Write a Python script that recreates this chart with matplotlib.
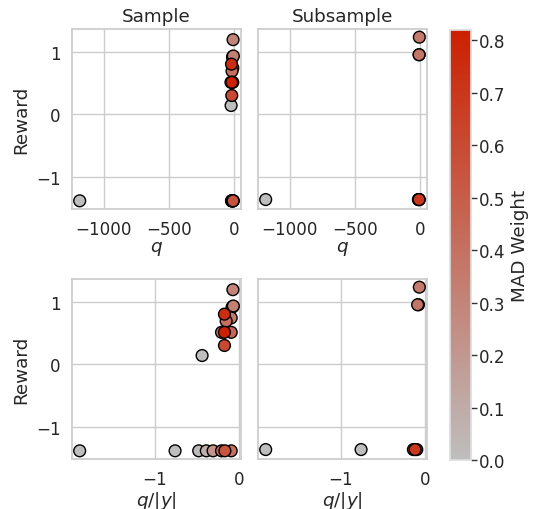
import matplotlib
matplotlib.use("Agg")
import matplotlib.pyplot as plt
import seaborn as sns
import numpy as np
from matplotlib.colors import LinearSegmentedColormap, Normalize
from matplotlib.ticker import MultipleLocator

sns.set_theme(style="whitegrid", font_scale=1.1)
plt.rcParams['font.family'] = ['DejaVu Sans']

# ---- data ----
sample_q = [-10, -12, -8, -14, -22, -12, -18, -26, -20, -12, -20, -25,
            -1185, -20, -22, -18, -15, -12, -10, -8]
sample_q_norm = [-0.075, -0.075, -0.07, -0.085, -0.175, -0.095, -0.155, -0.21,
                 -0.175, -0.095, -0.175, -0.44, -1.89, -0.76, -0.48, -0.39,
                 -0.31, -0.21, -0.17, -0.095]
sample_reward = [1.19, 0.92, 0.93, 0.91, 0.80, 0.74, 0.69, 0.51, 0.51, 0.51,
                 0.30, 0.14, -1.38, -1.38, -1.38, -1.38, -1.38, -1.38, -1.38, -1.38]
sample_weight = [0.30, 0.28, 0.32, 0.30, 0.75, 0.35, 0.40, 0.40, 0.82, 0.45,
                 0.60, 0.0, 0.0, 0.0, 0.02, 0.08, 0.22, 0.45, 0.55, 0.40]

sub_q = [-8, -10, -9, -1185, -15, -12, -10, -8]
sub_q_norm = [-0.07, -0.09, -0.08, -1.89, -0.76, -0.14, -0.12, -0.10]
sub_reward = [1.23, 0.95, 0.95, -1.36, -1.36, -1.36, -1.36, -1.36]
sub_weight = [0.35, 0.38, 0.36, 0.0, 0.0, 0.62, 0.70, 0.68]

titles = ["Sample", "Subsample"]
vmin, vmax = 0.0, 0.82

cmap = LinearSegmentedColormap.from_list("mad", ["#bebebe", "#cc2000"])
norm = Normalize(vmin=vmin, vmax=vmax)

fig = plt.figure(figsize=(5.34, 5.10), dpi=100)
W, H = 534, 510
def rect(x0, y0, x1, y1):
    return [x0 / W, 1 - y1 / H, (x1 - x0) / W, (y1 - y0) / H]

ax_tl = fig.add_axes(rect(72, 30, 241, 210))
ax_tr = fig.add_axes(rect(258, 30, 427, 210), sharey=ax_tl)
ax_bl = fig.add_axes(rect(72, 280, 241, 460), sharey=ax_tl)
ax_br = fig.add_axes(rect(258, 280, 427, 460), sharey=ax_tl)
cax = fig.add_axes(rect(450, 31, 471, 461))

def scat(ax, x, y, w):
    x = np.asarray(x); y = np.asarray(y); w = np.asarray(w)
    order = np.argsort(w, kind="stable")
    return ax.scatter(x[order], y[order], c=w[order], cmap=cmap, norm=norm,
                      s=72, edgecolor="black", linewidth=1.0, zorder=3)

scat(ax_tl, sample_q, sample_reward, sample_weight)
scat(ax_tr, sub_q, sub_reward, sub_weight)
scat(ax_bl, sample_q_norm, sample_reward, sample_weight)
sc = scat(ax_br, sub_q_norm, sub_reward, sub_weight)

ax_tl.set_title(titles[0])
ax_tr.set_title(titles[1])
for ax in (ax_tl, ax_tr):
    ax.xaxis.set_major_locator(MultipleLocator(500))
    ax.set_xlabel("$q$", labelpad=1)
for ax in (ax_bl, ax_br):
    ax.xaxis.set_major_locator(MultipleLocator(1))
    ax.set_xlabel("$q/|y|$", labelpad=1)
ax_tl.yaxis.set_major_locator(MultipleLocator(1))
for ax in (ax_tl, ax_bl):
    ax.set_ylabel("Reward")
for ax in (ax_tr, ax_br):
    plt.setp(ax.get_yticklabels(), visible=False)
for ax in (ax_tl, ax_tr, ax_bl, ax_br):
    ax.tick_params(axis="both", pad=2)

cb = fig.colorbar(sc, cax=cax)
cb.set_label("MAD Weight")
cb.outline.set_edgecolor("#dddddd")
cax.yaxis.set_major_locator(MultipleLocator(0.1))
cax.tick_params(axis="y", length=4, width=1, color="#333333", pad=2)

fig.savefig("out.png", dpi=100)
